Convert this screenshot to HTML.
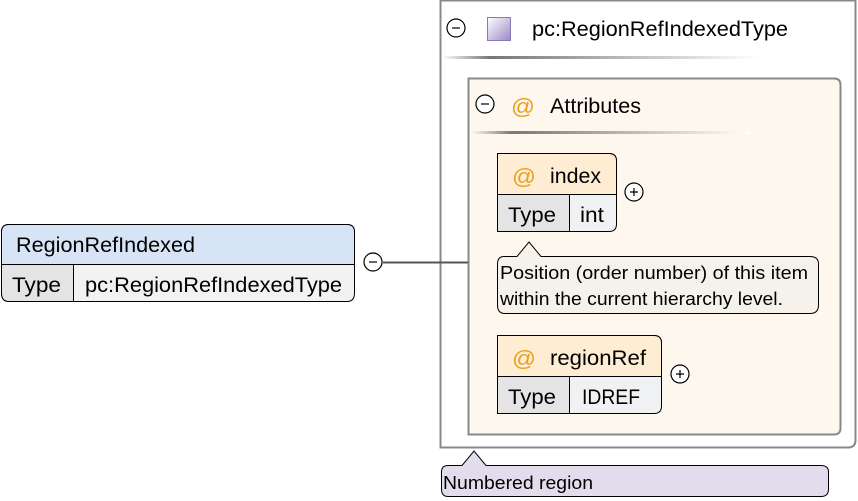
<!DOCTYPE html>
<html><head><meta charset="utf-8"><style>
html,body{margin:0;padding:0;background:#fff;}
svg{display:block;}
text{font-family:"Liberation Sans",Arial,sans-serif;fill:#000;}
</style></head><body>
<svg width="858" height="501" viewBox="0 0 858 501" xmlns="http://www.w3.org/2000/svg">
<defs>
<linearGradient id="sep" x1="0" x2="1" y1="0" y2="0">
<stop offset="0" stop-color="#fff"/><stop offset="0.15" stop-color="#777"/><stop offset="1" stop-color="#fff"/>
</linearGradient>
<linearGradient id="sq" x1="0" y1="0" x2="1" y2="1">
<stop offset="0" stop-color="#fff"/><stop offset="1" stop-color="#9c88c4"/>
</linearGradient>
</defs>
<path d="M440.5,0.5 H855.5 V440 Q855.5,447.5 848,447.5 H440.5 Z" fill="#fff" stroke="#888" stroke-width="2"/>
<circle cx="456" cy="28" r="9" fill="#fff" stroke="#000" stroke-width="1.2"/>
<line x1="452" y1="28" x2="460" y2="28" stroke="#000" stroke-width="1.2"/>
<rect x="487.5" y="17.5" width="23" height="23" fill="url(#sq)" stroke="#8a78b8"/>
<text x="532" y="36" font-size="21" textLength="256" lengthAdjust="spacingAndGlyphs">pc:RegionRefIndexedType</text>
<rect x="442" y="56" width="318" height="3" fill="url(#sep)"/>
<path d="M468.5,78.5 H834 Q840.5,78.5 840.5,85 V428 Q840.5,434.5 834,434.5 H468.5 Z" fill="#fdf7ee" stroke="#888" stroke-width="2"/>
<circle cx="485" cy="104" r="9" fill="#fff" stroke="#000" stroke-width="1.2"/>
<line x1="481" y1="104" x2="489" y2="104" stroke="#000" stroke-width="1.2"/>
<text x="511" y="114" font-size="22" textLength="24" lengthAdjust="spacingAndGlyphs" style="fill:#e8a020">@</text>
<text x="550" y="113" font-size="21" textLength="91" lengthAdjust="spacingAndGlyphs">Attributes</text>
<rect x="470" y="131" width="280" height="3" fill="url(#sep)"/>
<path d="M497.5,153.5 H609 Q616.5,153.5 616.5,161 V224 Q616.5,231.5 609,231.5 H497.5 Z" fill="#f0f1f3" stroke="#000"/>
<path d="M497.5,153.5 H609 Q616.5,153.5 616.5,161 V194.5 H497.5 Z" fill="#feedd2" stroke="#000"/>
<rect x="497.5" y="194.5" width="72" height="37" fill="#e4e4e4" stroke="#000"/>
<text x="512" y="184" font-size="22" textLength="24" lengthAdjust="spacingAndGlyphs" style="fill:#e8a020">@</text>
<text x="550" y="183" font-size="21" textLength="51" lengthAdjust="spacingAndGlyphs">index</text>
<text x="508" y="222" font-size="21" textLength="48" lengthAdjust="spacingAndGlyphs">Type</text>
<text x="580" y="222" font-size="21" textLength="24" lengthAdjust="spacingAndGlyphs">int</text>
<circle cx="634" cy="192" r="9" fill="#fff" stroke="#000" stroke-width="1.2"/>
<path d="M630,192 H638 M634,188 V196" stroke="#000" stroke-width="1.2"/>
<path d="M504,256.5 H517 L529,242 L541,256.5 H810 Q818.5,256.5 818.5,264 V305 Q818.5,313.5 810,313.5 H505 Q497.5,313.5 497.5,305 V264 Q497.5,256.5 504,256.5 Z" fill="#f5f2ec" stroke="#000"/>
<text x="500" y="279" font-size="18.5" textLength="308" lengthAdjust="spacingAndGlyphs">Position (order number) of this item</text>
<text x="500" y="305" font-size="18.5" textLength="283" lengthAdjust="spacingAndGlyphs">within the current hierarchy level.</text>
<path d="M497.5,335.5 H654 Q661.5,335.5 661.5,343 V406 Q661.5,413.5 654,413.5 H497.5 Z" fill="#f0f1f3" stroke="#000"/>
<path d="M497.5,335.5 H654 Q661.5,335.5 661.5,343 V376.5 H497.5 Z" fill="#feedd2" stroke="#000"/>
<rect x="497.5" y="376.5" width="72" height="37" fill="#e4e4e4" stroke="#000"/>
<text x="512" y="366" font-size="22" textLength="24" lengthAdjust="spacingAndGlyphs" style="fill:#e8a020">@</text>
<text x="550" y="365" font-size="21" textLength="96" lengthAdjust="spacingAndGlyphs">regionRef</text>
<text x="508" y="404" font-size="21" textLength="48" lengthAdjust="spacingAndGlyphs">Type</text>
<text x="582" y="404" font-size="21" textLength="58" lengthAdjust="spacingAndGlyphs">IDREF</text>
<circle cx="680" cy="374" r="9" fill="#fff" stroke="#000" stroke-width="1.2"/>
<path d="M676,374 H684 M680,370 V378" stroke="#000" stroke-width="1.2"/>
<line x1="383" y1="262.5" x2="468" y2="262.5" stroke="#555" stroke-width="2"/>
<circle cx="373" cy="262" r="9" fill="#fff" stroke="#000" stroke-width="1.2"/>
<line x1="369" y1="262" x2="377" y2="262" stroke="#000" stroke-width="1.2"/>
<path d="M1.5,232 Q1.5,224.5 9,224.5 H347 Q354.5,224.5 354.5,232 V293 Q354.5,301.5 347,301.5 H9 Q1.5,301.5 1.5,293 Z" fill="#f2f2f2" stroke="#000"/>
<path d="M1.5,232 Q1.5,224.5 9,224.5 H347 Q354.5,224.5 354.5,232 V264.5 H1.5 Z" fill="#d7e4f6" stroke="#000"/>
<path d="M1.5,264.5 H73.5 V301.5 H9 Q1.5,301.5 1.5,293 Z" fill="#e4e4e4" stroke="#000"/>
<text x="16" y="252" font-size="21" textLength="179" lengthAdjust="spacingAndGlyphs">RegionRefIndexed</text>
<text x="12" y="292" font-size="21" textLength="49" lengthAdjust="spacingAndGlyphs">Type</text>
<text x="85" y="292" font-size="21" textLength="257" lengthAdjust="spacingAndGlyphs">pc:RegionRefIndexedType</text>
<path d="M448,465.5 H462 L474,451 L486,465.5 H821 Q828.5,465.5 828.5,472 V489 Q828.5,496.5 821,496.5 H448 Q441.5,496.5 441.5,489 V472 Q441.5,465.5 448,465.5 Z" fill="#e2dced" stroke="#000"/>
<text x="443" y="489" font-size="18.5" textLength="150" lengthAdjust="spacingAndGlyphs">Numbered region</text>
</svg>
</body></html>
